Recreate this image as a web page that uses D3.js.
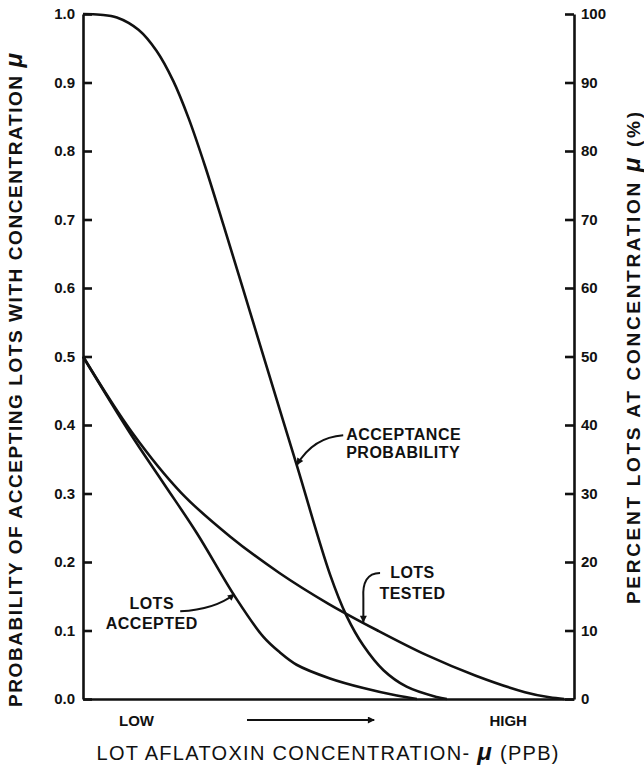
<!DOCTYPE html>
<html>
<head>
<meta charset="utf-8">
<script src="https://cdn.jsdelivr.net/npm/d3@7"></script>
<style>
  body { margin: 0; background: #fff; }
  text { font-family: 'Liberation Sans', Arial, sans-serif; fill: #111; }
  .axis path, .axis line { stroke: #111; stroke-width: 2.6; }
  .axis text { font-size: 15px; font-weight: bold; }
</style>
</head>
<body>
<div class="chart"></div>
<script>
const svgWidth = 644;
const svgHeight = 769;

const margin = {
  top: 14,
  right: 70,
  bottom: 70,
  left: 83
};

const width = svgWidth - margin.left - margin.right;
const height = svgHeight - margin.top - margin.bottom;

// concentration runs from low (0) to high (1), no numeric scale in the original
const acceptX = [0, 0.035, 0.069, 0.113, 0.150, 0.184, 0.215, 0.249, 0.286, 0.327, 0.361, 0.435, 0.503, 0.537, 0.571, 0.612, 0.659, 0.720, 0.741];
const acceptProb = [1.0, 0.999, 0.995, 0.977, 0.946, 0.902, 0.848, 0.777, 0.692, 0.596, 0.516, 0.342, 0.182, 0.121, 0.078, 0.042, 0.018, 0.003, 0.0];

const testedX = [0, 0.1, 0.2, 0.3, 0.4, 0.5, 0.6, 0.7, 0.8, 0.9, 0.95, 0.98];
const testedPct = [50, 38.9, 30.1, 23.7, 18.4, 13.9, 10.0, 6.4, 3.4, 1.0, 0.25, 0];

const acceptedX = [0, 0.096, 0.164, 0.232, 0.310, 0.367, 0.401, 0.435, 0.503, 0.571, 0.639, 0.680];
const acceptedPct = [50, 38.8, 31.5, 24.2, 14.9, 9.1, 6.8, 5.0, 3.0, 1.6, 0.5, 0];

const leftTicks = d3.range(0, 11).map(d => d / 10);
const rightTicks = d3.range(0, 101, 10);

const svg = d3.select('.chart')
  .append('svg')
  .attr('width', svgWidth)
  .attr('height', svgHeight);

let chartGroup = svg.append('g')
  .attr('transform', `translate(${margin.left}, ${margin.top})`);

// arrow head for the callouts
svg.append('defs')
  .append('marker')
  .attr('id', 'head')
  .attr('viewBox', '0 0 10 10')
  .attr('refX', 9)
  .attr('refY', 5)
  .attr('markerWidth', 9)
  .attr('markerHeight', 7)
  .attr('markerUnits', 'userSpaceOnUse')
  .attr('orient', 'auto')
  .append('path')
  .attr('d', 'M0,0 L10,5 L0,10 Z')
  .attr('fill', '#111');

//create scale functions
let xScale = d3.scaleLinear()
  .domain([0, 1])
  .range([0, width]);

let yLeft = d3.scaleLinear()
  .domain([0, 1])
  .range([height, 0]);

let yRight = d3.scaleLinear()
  .domain([0, 100])
  .range([height, 0]);

//axes, ticks point inward
const leftAxis = d3.axisLeft(yLeft)
  .tickValues(leftTicks)
  .tickFormat(d3.format('.1f'))
  .tickSizeInner(-9)
  .tickSizeOuter(0)
  .tickPadding(8);

const rightAxis = d3.axisRight(yRight)
  .tickValues(rightTicks)
  .tickFormat(d3.format('d'))
  .tickSizeInner(-9)
  .tickSizeOuter(0)
  .tickPadding(7);

const bottomAxis = d3.axisBottom(xScale)
  .tickValues([])
  .tickSizeOuter(0);

chartGroup.append('g')
  .attr('class', 'axis')
  .call(leftAxis);

chartGroup.append('g')
  .attr('class', 'axis')
  .attr('transform', `translate(${width}, 0)`)
  .call(rightAxis);

chartGroup.append('g')
  .attr('class', 'axis')
  .attr('transform', `translate(0, ${height})`)
  .call(bottomAxis);

//curves
const probLine = d3.line()
  .x(d => xScale(d[0]))
  .y(d => yLeft(d[1]))
  .curve(d3.curveCatmullRom.alpha(0.5));

const pctLine = d3.line()
  .x(d => xScale(d[0]))
  .y(d => yRight(d[1]))
  .curve(d3.curveCatmullRom.alpha(0.5));

const curves = [
  { d: probLine(d3.zip(acceptX, acceptProb)) },
  { d: pctLine(d3.zip(testedX, testedPct)) },
  { d: pctLine(d3.zip(acceptedX, acceptedPct)) }
];

chartGroup.selectAll('.curve')
  .data(curves)
  .enter()
  .append('path')
  .attr('class', 'curve')
  .attr('d', d => d.d)
  .attr('fill', 'none')
  .attr('stroke', '#111')
  .attr('stroke-width', 2.6)
  .attr('stroke-linejoin', 'round');

//callout labels, anchored in data units
const labelStyle = sel => sel
  .style('font-size', '16px')
  .style('font-weight', 'bold')
  .style('letter-spacing', '0.5px');

function callout(lines, tx, ty, anchor, spacing) {
  lines.forEach((t, i) => {
    chartGroup.append('text')
      .attr('x', xScale(tx))
      .attr('y', yLeft(ty) + i * spacing)
      .attr('text-anchor', anchor)
      .call(labelStyle)
      .text(t);
  });
}

function arrow(pathFn) {
  chartGroup.append('path')
    .attr('d', pathFn())
    .attr('fill', 'none')
    .attr('stroke', '#111')
    .attr('stroke-width', 2)
    .attr('marker-end', 'url(#head)');
}

callout(['ACCEPTANCE', 'PROBABILITY'], 0.536, 0.378, 'start', 18);
arrow(() => {
  const x0 = xScale(0.530), y0 = yLeft(0.385);
  const x1 = xScale(0.436), y1 = yLeft(0.342);
  return `M${x0},${y0} Q${x0 - 30},${y0 + 2} ${x1},${y1}`;
});

callout(['LOTS', 'TESTED'], 0.671, 0.177, 'middle', 21);
arrow(() => {
  const x0 = xScale(0.605), y0 = yLeft(0.184);
  const x1 = xScale(0.571), y1 = yRight(11.1) - 1;
  return `M${x0},${y0} C${x0 - 13},${y0} ${x1 - 1},${y0 + 10} ${x1},${y0 + 25} L${x1},${y1}`;
});

callout(['LOTS', 'ACCEPTED'], 0.140, 0.132, 'middle', 20);
arrow(() => {
  const x0 = xScale(0.198), y0 = yLeft(0.128);
  const x1 = xScale(0.308), y1 = yRight(15.3);
  return `M${x0},${y0} Q${x0 + 35},${y0 - 2} ${x1},${y1}`;
});

//low / high along the bottom
chartGroup.append('text')
  .attr('x', xScale(0.109))
  .attr('y', height + 27)
  .attr('text-anchor', 'middle')
  .style('font-size', '15px')
  .style('font-weight', 'bold')
  .text('LOW');

chartGroup.append('text')
  .attr('x', xScale(0.866))
  .attr('y', height + 27)
  .attr('text-anchor', 'middle')
  .style('font-size', '15px')
  .style('font-weight', 'bold')
  .text('HIGH');

chartGroup.append('line')
  .attr('x1', xScale(0.334))
  .attr('x2', xScale(0.593))
  .attr('y1', height + 21)
  .attr('y2', height + 21)
  .attr('stroke', '#111')
  .attr('stroke-width', 2)
  .attr('marker-end', 'url(#head)');

//axis titles
const leftTitle = svg.append('text')
  .attr('transform', 'translate(22, 380) rotate(-90)')
  .attr('text-anchor', 'middle')
  .attr('textLength', 654)
  .attr('lengthAdjust', 'spacing')
  .style('font-size', '19px')
  .style('font-weight', 'bold');
leftTitle.append('tspan').text('PROBABILITY  OF  ACCEPTING  LOTS  WITH  CONCENTRATION  ');
leftTitle.append('tspan').style('font-style', 'italic').style('font-size', '24px').text('μ');

const rightTitle = svg.append('text')
  .attr('transform', 'translate(640, 358) rotate(-90)')
  .attr('text-anchor', 'middle')
  .attr('textLength', 492)
  .attr('lengthAdjust', 'spacing')
  .style('font-size', '19px')
  .style('font-weight', 'bold');
rightTitle.append('tspan').text('PERCENT  LOTS  AT  CONCENTRATION  ');
rightTitle.append('tspan').style('font-style', 'italic').style('font-size', '24px').text('μ');
rightTitle.append('tspan').text('  (%)');

const bottomTitle = svg.append('text')
  .attr('x', margin.left + xScale(0.498))
  .attr('y', 760)
  .attr('text-anchor', 'middle')
  .attr('textLength', 462)
  .attr('lengthAdjust', 'spacing')
  .style('font-size', '20px');
bottomTitle.append('tspan').text('LOT  AFLATOXIN  CONCENTRATION- ');
bottomTitle.append('tspan').style('font-style', 'italic').style('font-weight', 'bold').style('font-size', '24px').text('μ');
bottomTitle.append('tspan').text(' (PPB)');
</script>
</body>
</html>
